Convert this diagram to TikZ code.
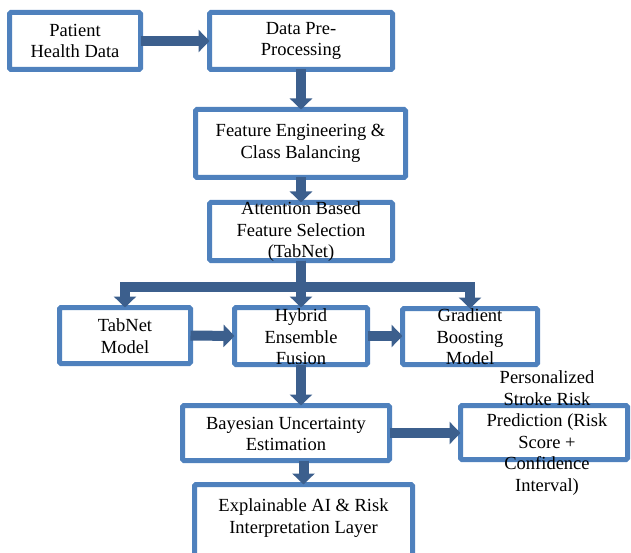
\documentclass[tikz,border=0pt]{standalone}
\usepackage{fontspec}
\setmainfont{Liberation Serif}
\usetikzlibrary{arrows.meta}
\definecolor{boxblue}{HTML}{4F81BD}
\definecolor{arrblue}{HTML}{3C5F8D}
\begin{document}
\begin{tikzpicture}[x=1pt,y=-1pt,
  box/.style={draw=boxblue, line width=5pt, rounded corners=1.5pt, fill=white, inner sep=0pt, outer sep=0pt},
  txt/.style={align=center, font=\fontsize{18.5}{21.5}\selectfont, text=black, inner sep=0pt},
  arr/.style={draw=arrblue, line width=10pt, line join=miter, -{Triangle[length=11pt,width=22pt]}},
]
\useasboundingbox (0,0) rectangle (631,553);
% boxes
\node[box, minimum width=131pt, minimum height=57pt] (b1) at (75,41) {};
\node[box, minimum width=183pt, minimum height=57pt] (b2) at (301,41) {};
\node[box, minimum width=210pt, minimum height=68pt] (b3) at (300.5,143.5) {};
\node[box, minimum width=183pt, minimum height=58pt] (b4) at (301,231.5) {};
\node[box, minimum width=131pt, minimum height=56pt] (b5) at (125,335.5) {};
\node[box, minimum width=133pt, minimum height=57pt] (b6) at (301,336) {};
\node[box, minimum width=135pt, minimum height=56pt] (b7) at (470,336.5) {};
\node[box, minimum width=207pt, minimum height=55pt] (b8) at (286,433) {};
\node[box, minimum width=167pt, minimum height=54pt] (b9) at (544,432.5) {};
\node[box, minimum width=218pt, minimum height=73pt] (b10) at (303.5,521) {};
% connectors
\coordinate (split) at (301,287);
\draw[arr] (b1.east) -- (b2.west);
\draw[arr] (b2.south) -- (b2.south |- b3.north);
\draw[arr] (b3.south -| b4.north) -- (b4.north);
\draw[arr] (b4.south) -- (split) -| (b5.north);
\draw[arr] (b4.south) -- (split) -- (b6.north);
\draw[arr] (b4.south) -- (split) -| (b7.north);
\draw[arr] (b5.east) -- (b6.west);
\draw[arr] (b6.east) -- (b6.east -| b7.west);
\draw[arr] (b6.south) -- (b6.south |- b8.north);
\draw[arr] (b8.east) -- (b8.east -| b9.west);
\draw[arr] (b10.north |- b8.south) -- (b10.north);
% texts
\node[txt] (t1) at (75,41) {Patient\\Health Data};
\node[txt] (t2) at (301,41) {Data Pre-\\Processing};
\node[txt] (t3) at (300.5,143.5) {Feature Engineering \&\\Class Balancing};
\node[txt] (t4) at (301,232) {Attention Based\\Feature Selection\\(TabNet)};
\node[txt] (t5) at (125,336) {TabNet\\Model};
\node[txt] (t6) at (301,337) {Hybrid\\Ensemble\\Fusion};
\node[txt] (t7) at (470,337) {Gradient\\Boosting\\Model};
\node[txt] (t8) at (286,434) {Bayesian Uncertainty\\Estimation};
\node[txt] (t9) at (547,433) {Personalized\\Stroke Risk\\Prediction (Risk\\Score +\\Confidence\\Interval)};
\node[txt] (t10) at (303.5,518) {Explainable AI \& Risk\\Interpretation Layer};
\end{tikzpicture}
\end{document}
